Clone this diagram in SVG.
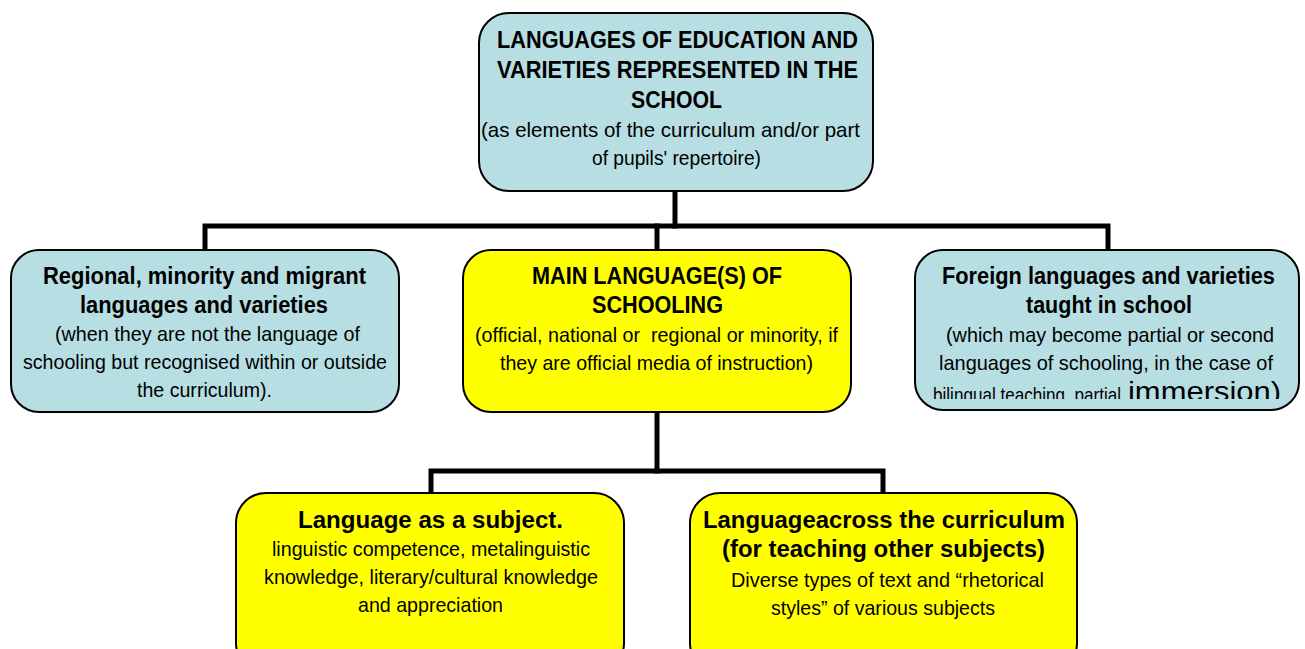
<svg xmlns="http://www.w3.org/2000/svg" width="1305" height="649" viewBox="0 0 1305 649">
<style>
.box{stroke:#000;stroke-width:2}
.blue{fill:#b7dee3}
.yel{fill:#ffff00}
.conn{stroke:#000;stroke-width:5;fill:none;stroke-linecap:square}
text{font-family:"Liberation Sans",Arial,sans-serif;fill:#000;white-space:pre}
.b{font-weight:bold;font-size:23px}
.bl{font-weight:bold;font-size:24px}
.r{font-size:21px}
</style>
<defs>
<clipPath id="clipRight"><rect x="915" y="250" width="384" height="149"/></clipPath>
</defs>
<rect width="1305" height="649" fill="#fff"/>
<g id="connectors">
<path class="conn" d="M675,192 V226"/>
<path class="conn" d="M205,250 V226 H1108 V250"/>
<path class="conn" d="M657,226 V250"/>
<path class="conn" d="M657,412 V471"/>
<path class="conn" d="M431,493 V471 H883 V493"/>
</g>
<g id="node-top">
<rect class="box blue" x="479" y="13" width="394" height="178" rx="30"/>
<text class="b" x="497" y="48" textLength="361" lengthAdjust="spacingAndGlyphs">LANGUAGES OF EDUCATION AND</text>
<text class="b" x="497" y="78" textLength="361" lengthAdjust="spacingAndGlyphs">VARIETIES REPRESENTED IN THE</text>
<text class="b" x="631" y="108" textLength="91" lengthAdjust="spacingAndGlyphs">SCHOOL</text>
<text class="r" x="481" y="137" textLength="379" lengthAdjust="spacingAndGlyphs">(as elements of the curriculum and/or part</text>
<text class="r" x="592" y="165" textLength="169" lengthAdjust="spacingAndGlyphs">of pupils' repertoire)</text>
</g>
<g id="node-regional">
<rect class="box blue" x="11" y="250" width="388" height="162" rx="28"/>
<text class="b" x="43" y="284" textLength="323" lengthAdjust="spacingAndGlyphs">Regional, minority and migrant</text>
<text class="b" x="80" y="313" textLength="248" lengthAdjust="spacingAndGlyphs">languages and varieties</text>
<text class="r" x="55" y="341" textLength="305" lengthAdjust="spacingAndGlyphs">(when they are not the language of</text>
<text class="r" x="23" y="369" textLength="364" lengthAdjust="spacingAndGlyphs">schooling but recognised within or outside</text>
<text class="r" x="137" y="397" textLength="135" lengthAdjust="spacingAndGlyphs">the curriculum).</text>
</g>
<g id="node-main">
<rect class="box yel" x="463" y="250" width="388" height="162" rx="28"/>
<text class="b" x="532" y="284" textLength="250" lengthAdjust="spacingAndGlyphs">MAIN LANGUAGE(S) OF</text>
<text class="b" x="592" y="313" textLength="131" lengthAdjust="spacingAndGlyphs">SCHOOLING</text>
<text class="r" x="475" y="342" textLength="363" lengthAdjust="spacingAndGlyphs">(official, national or  regional or minority, if</text>
<text class="r" x="500" y="370" textLength="313" lengthAdjust="spacingAndGlyphs">they are official media of instruction)</text>
</g>
<g id="node-foreign">
<rect class="box blue" x="915" y="250" width="384" height="160" rx="28"/>
<text class="b" x="942" y="284" textLength="333" lengthAdjust="spacingAndGlyphs">Foreign languages and varieties</text>
<text class="b" x="1026" y="313" textLength="166" lengthAdjust="spacingAndGlyphs">taught in school</text>
<text class="r" x="946" y="342" textLength="328" lengthAdjust="spacingAndGlyphs">(which may become partial or second</text>
<text class="r" x="939" y="370" textLength="334" lengthAdjust="spacingAndGlyphs">languages of schooling, in the case of</text>
<g clip-path="url(#clipRight)">
<text class="r" x="933" y="402" textLength="188" lengthAdjust="spacingAndGlyphs">bilingual teaching, partial</text>
<text x="1128" y="401" font-size="27" textLength="153" lengthAdjust="spacingAndGlyphs">immersion)</text>
</g>
</g>
<g id="node-subject">
<rect class="box yel" x="236" y="493" width="388" height="180" rx="30"/>
<text class="bl" x="298" y="528" textLength="265" lengthAdjust="spacingAndGlyphs">Language as a subject.</text>
<text class="r" x="272" y="556" textLength="318" lengthAdjust="spacingAndGlyphs">linguistic competence, metalinguistic</text>
<text class="r" x="264" y="584" textLength="334" lengthAdjust="spacingAndGlyphs">knowledge, literary/cultural knowledge</text>
<text class="r" x="358" y="612" textLength="145" lengthAdjust="spacingAndGlyphs">and appreciation</text>
</g>
<g id="node-across">
<rect class="box yel" x="690" y="493" width="387" height="180" rx="30"/>
<text class="bl" x="703" y="528" textLength="362" lengthAdjust="spacingAndGlyphs">Languageacross the curriculum</text>
<text class="bl" x="722" y="557" textLength="323" lengthAdjust="spacingAndGlyphs">(for teaching other subjects)</text>
<text class="r" x="731" y="587" textLength="313" lengthAdjust="spacingAndGlyphs">Diverse types of text and “rhetorical</text>
<text class="r" x="771" y="615" textLength="224" lengthAdjust="spacingAndGlyphs">styles” of various subjects</text>
</g>
</svg>
